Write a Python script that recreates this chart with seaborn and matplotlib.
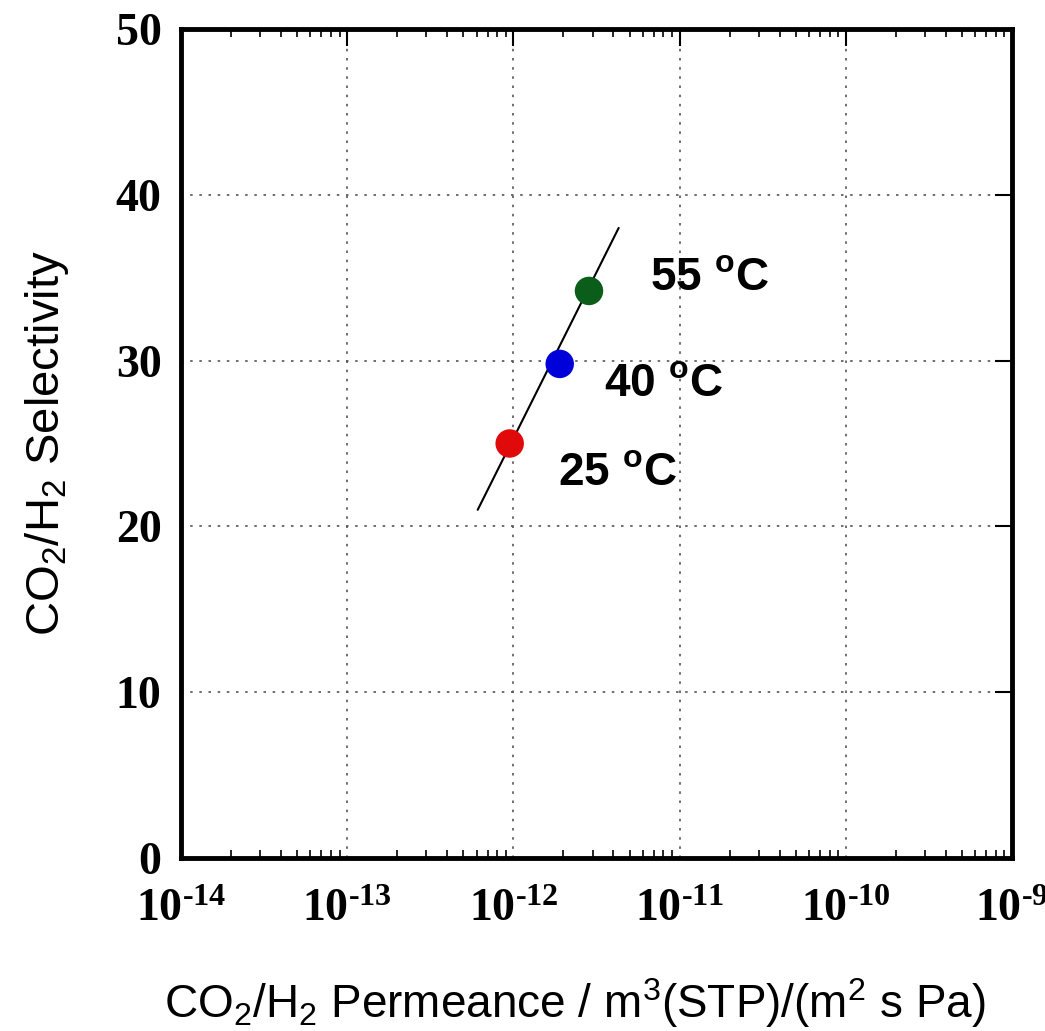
import numpy as np
import pandas as pd
import matplotlib
matplotlib.use("Agg")
import matplotlib.pyplot as plt
import matplotlib.ticker as mticker
import seaborn as sns

# Data
temps = ["25 ºC", "40 ºC", "55 ºC"]
permeance = [9.5e-13, 1.9e-12, 2.85e-12]
selectivity = [25.0, 29.8, 34.2]
point_colors = ["#e00a0a", "#0000d8", "#0a5e1a"]
fit_x = [6.1e-13, 4.3e-12]
fit_y = [21.0, 38.0]
label_x = [1.85e-12, 3.5e-12, 6.6e-12]
label_y = [23.2, 28.6, 35.0]
label_text = ["25 $^{\\mathbf{o}}$C", "40 $^{\\mathbf{o}}$C", "55 $^{\\mathbf{o}}$C"]
x_ticks = [1e-14, 1e-13, 1e-12, 1e-11, 1e-10, 1e-9]
y_ticks = [0, 10, 20, 30, 40, 50]

sns.set_style("white")
plt.rcParams['font.family'] = ['Liberation Sans', 'DejaVu Sans']
plt.rcParams['mathtext.fontset'] = 'custom'
plt.rcParams['mathtext.rm'] = 'Liberation Serif:bold'
plt.rcParams['mathtext.bf'] = 'Liberation Sans:bold'
plt.rcParams['mathtext.it'] = 'Liberation Sans:italic'
plt.rcParams['mathtext.default'] = 'regular'
for k in ['text.color', 'axes.labelcolor', 'xtick.color', 'ytick.color']:
    plt.rcParams[k] = 'black'

fig = plt.figure(figsize=(10.45, 10.31), dpi=100)
ax = fig.add_axes([0.1732, 0.1678, 0.7952, 0.8041])

df = pd.DataFrame({"T": temps, "P": permeance, "S": selectivity})
fit = pd.DataFrame({"x": fit_x, "y": fit_y})

sns.lineplot(data=fit, x="x", y="y", color="black", lw=1.5, ax=ax, zorder=2)
sns.scatterplot(data=df, x="P", y="S", hue="T", palette=point_colors, s=420,
                edgecolor="none", legend=False, ax=ax, zorder=3)

ax.set_xscale("log")
ax.set_xlim(1e-14, 1e-9)
ax.set_ylim(0, 50)
ax.set_xticks(x_ticks)
ax.set_yticks(y_ticks)
ax.xaxis.set_minor_locator(mticker.LogLocator(base=10, subs=np.arange(2, 10), numticks=20))
ax.xaxis.set_major_formatter(mticker.FuncFormatter(
    lambda v, p: r"$\mathregular{10^{\text{%d}}}$" % round(np.log10(v))))
ax.xaxis.set_minor_formatter(mticker.NullFormatter())

ax.grid(True, which="major", color="#555555", linestyle=(0, (1.5, 4)), lw=1.2)
ax.tick_params(axis="both", which="major", direction="in", length=12, width=1.5,
               top=True, right=True)
ax.tick_params(axis="x", which="minor", direction="in", length=6, width=1.2,
               top=True, bottom=True)
ax.tick_params(axis="y", which="major", pad=14)
ax.tick_params(axis="x", which="major", pad=22)

for lab in ax.get_xticklabels() + ax.get_yticklabels():
    lab.set_fontfamily("Liberation Serif")
    lab.set_fontweight("bold")
    lab.set_fontsize(33)

for sp in ax.spines.values():
    sp.set_linewidth(3.5)
    sp.set_color("black")
    sp.set_visible(True)

for tx, ty, tt in zip(label_x, label_y, label_text):
    ax.text(tx, ty, tt, fontsize=33, fontweight="bold", ha="left", va="center",
            family="Liberation Sans", color="black")

ax.set_xlabel("CO$_2$/H$_2$ Permeance / m$^3$(STP)/(m$^2$ s Pa)", fontsize=33)
ax.xaxis.set_label_coords(0.474, -0.142)
ax.set_ylabel("CO$_2$/H$_2$ Selectivity", fontsize=34, labelpad=32)

fig.savefig("out.png", dpi=100)
